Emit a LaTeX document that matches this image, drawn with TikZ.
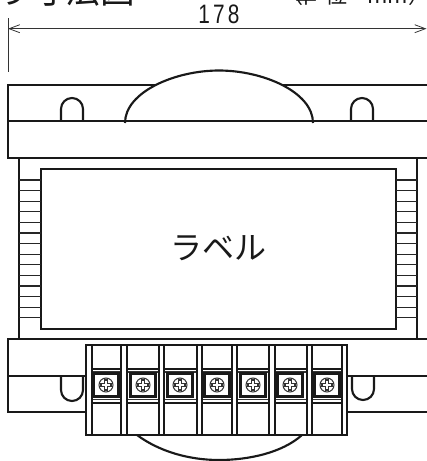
\documentclass[tikz,border=0pt]{standalone}
\usepackage{fontspec}
\usetikzlibrary{arrows.meta}
\newfontfamily\cjk{Noto Sans CJK JP}
\setmainfont{Liberation Sans}
\newfontfamily\narrowdig[FakeStretch=0.78,LetterSpace=12]{Liberation Sans}
\tikzset{x=0.75pt,y=-0.75pt,
  body/.style={line width=1.6pt,draw=black!90},
  thinl/.style={line width=0.8pt,draw=black!80},
  rib/.style={line width=1pt,draw=black!85},
  dim/.style={line width=0.6pt,draw=black!80},
  lab/.style={inner sep=0pt,text=black!90}}
% #1 left, #2 right, #3 screw centre
\newcommand{\tb}[3]{%
  \draw[body] (#1,369) -- (#2,369);
  \draw[thinl] (#1,372) -- (#2,372);
  \draw[thinl] (#1,399.5) -- (#2,399.5);
  \draw[body] (#1,403) -- (#2,403);
  \begin{scope}[shift={(#3,385)}]
    \draw[body] (-12.5,-11.5) rectangle (12.5,11.5);
    \draw[thinl] (0,0) circle (7);
    \draw[thinl] (-1.6,-5) -- (1.6,-5) -- (1.6,-1.6) -- (5,-1.6) -- (5,1.6) -- (1.6,1.6) -- (1.6,5) -- (-1.6,5) -- (-1.6,1.6) -- (-5,1.6) -- (-5,-1.6) -- (-1.6,-1.6) -- cycle;
  \end{scope}}
\begin{document}
\begin{tikzpicture}
\useasboundingbox (0,0) rectangle (427,461);
\clip (0,0) rectangle (427,461);
% title, cut off by the top edge
\node[lab,anchor=base west,font=\cjk\fontsize{26}{26}\selectfont] (title) at (-4,3) {り\hspace{0pt}寸法図};
\node[lab,anchor=base west,font=\cjk\fontsize{16.5}{16.5}\selectfont] (unit) at (281,3) {（\hspace{-6pt}単\hspace{6pt}位\hspace{15pt}mm）};
% dimension
\coordinate (dl) at (8,28.7);
\coordinate (dr) at (426.5,28.7);
\draw[dim] (8,18) -- (8,72);
\draw[dim,{Straight Barb[length=8pt,width=6pt]}-{Straight Barb[length=8pt,width=6pt]}] (dl) -- (dr);
\node[lab,font=\narrowdig\fontsize{20}{20}\selectfont] (dimv) at (219,14.5) {178};
% top core
\draw[body] (427,85) -- (8,85) -- (8,158) -- (427,158);
\draw[body] (8,121) -- (427,121);
\draw[body] (61,121) -- (61,109) arc (180:360:11 and 11) -- (83,121);
\draw[body] (351,121) -- (351,109) arc (180:360:11 and 11) -- (373,121);
\fill[white] (125,122) .. controls (125,92) and (175,70.5) .. (219,70.5) .. controls (263,70.5) and (313,92) .. (313,122) -- cycle;
\draw[body] (125,123) .. controls (125,92) and (175,70.5) .. (219,70.5) .. controls (263,70.5) and (313,92) .. (313,123);
\draw[body] (125,121) -- (313,121);
% coil
\draw[body] (19,158) -- (19,339);
\draw[body] (417,158) -- (417,339);
\draw[body] (41,329) -- (41,169) -- (396,169) -- (396,329) -- cycle;
\foreach \k in {0,...,13}{
  \pgfmathsetmacro\yy{180+10.6*\k}
  \draw[rib] (19,\yy) -- (41,\yy);
  \draw[rib] (396,\yy) -- (417,\yy);
}
\node[lab,font=\cjk\fontsize{24}{24}\selectfont] (label) at (218,248) {ラベル};
% bottom core
\draw[body] (427,339) -- (8,339) -- (8,412) -- (427,412);
\draw[body] (8,376) -- (427,376);
\draw[body] (61,376) -- (61,390) arc (180:0:11 and 11) -- (83,376);
\draw[body] (352,376) -- (352,389) arc (180:0:11 and 11) -- (374,376);
% lower bulge
\draw[body] (137,435) .. controls (160,452) and (190,460) .. (219,460) .. controls (248,460) and (282,453) .. (302,435);
% terminal block
\fill[white] (86,345) rectangle (347,435);
\tb{92}{121}{106}
\tb{127}{159}{143}
\tb{164}{197}{180}
\tb{202}{232}{217}
\tb{237}{269}{253}
\tb{275}{307}{290}
\tb{312}{342}{327}
\draw[body] (86,345) rectangle (347,435);
\foreach \xx in {92,121,127,159,164,197,202,232,237,269,275,307,312,342}{
  \draw[body] (\xx,345) -- (\xx,435);
}
\end{tikzpicture}
\end{document}
